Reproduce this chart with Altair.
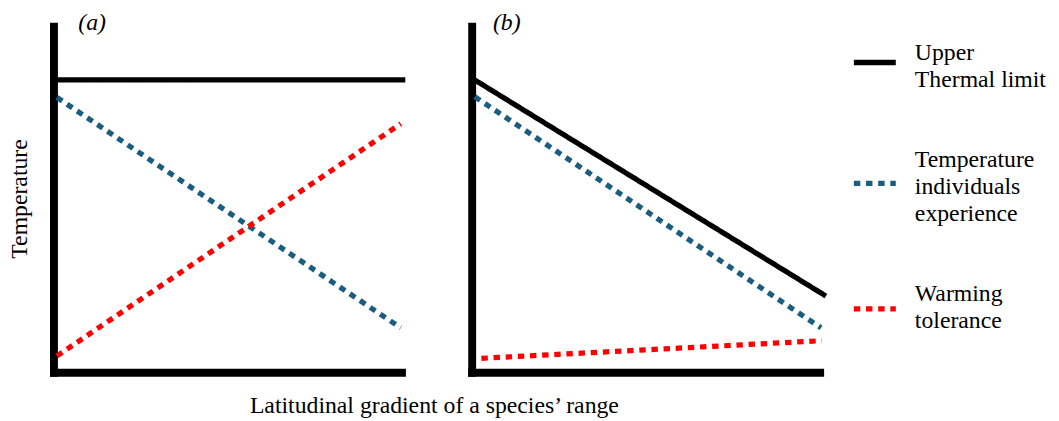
import altair as alt
import pandas as pd

FONT = "Liberation Serif"
BLACK = "#000000"
BLUE = "#1a5d7e"
RED = "#ff0000"

series_names = ["Upper Thermal limit", "Temperature individuals experience", "Warming tolerance"]
legend_lines = [["Upper", "Thermal limit"],
                ["Temperature", "individuals", "experience"],
                ["Warming", "tolerance"]]
x_title = "Latitudinal gradient of a species\u2019 range"
y_title = "Temperature"
panel_labels = ["(a)", "(b)"]

# panel (a): two end points per series (x, y in arbitrary units 0-100)
a_upper_x = [0.0, 101.1]
a_upper_y = [84.5, 84.5]
a_exp_x = [1.0, 99.8]
a_exp_y = [79.4, 12.8]
a_tol_x = [1.0, 99.8]
a_tol_y = [4.7, 71.8]

# panel (b)
b_upper_x = [0.0, 101.8]
b_upper_y = [85.0, 22.0]
b_exp_x = [0.9, 100.4]
b_exp_y = [79.6, 12.8]
b_tol_x = [2.8, 100.6]
b_tol_y = [4.0, 9.1]


def build_df(sets):
    rows = []
    for name, xs, ys in sets:
        for i, (xv, yv) in enumerate(zip(xs, ys)):
            rows.append({"series": name, "order": i, "x": xv, "y": yv})
    return pd.DataFrame(rows)


df_a = build_df([(series_names[0], a_upper_x, a_upper_y),
                 (series_names[1], a_exp_x, a_exp_y),
                 (series_names[2], a_tol_x, a_tol_y)])
df_b = build_df([(series_names[0], b_upper_x, b_upper_y),
                 (series_names[1], b_exp_x, b_exp_y),
                 (series_names[2], b_tol_x, b_tol_y)])

W, H = 352, 350
DASH = [6.5, 5.8]
LH = 27.3

color_scale = alt.Scale(domain=series_names, range=[BLACK, BLUE, RED])
dash_scale = alt.Scale(domain=series_names, range=[[1, 0], DASH, DASH])

title_style = dict(titleFont=FONT, titleFontSize=24, titleFontWeight="normal",
                   titleColor=BLACK, titleLineHeight=LH)
base_axis = dict(domainWidth=8, domainColor=BLACK, domainCap="square",
                 ticks=False, labels=False, grid=False, **title_style)


def text_axis(title, orient, tx, ty, italic=False):
    kw = dict(orient=orient, title=title, domain=False, ticks=False, labels=False,
              grid=False, titleX=tx, titleY=ty, titleAlign="left",
              titleBaseline="alphabetic", titleAngle=0, **title_style)
    if italic:
        kw["titleFontStyle"] = "italic"
    return alt.Axis(**kw)


def lines_layer(df, x_axis, y_axis):
    return alt.Chart(df).mark_line(strokeWidth=5.3, strokeCap="butt").encode(
        x=alt.X("x:Q", scale=alt.Scale(domain=[0, 100], nice=False, zero=False), axis=x_axis),
        y=alt.Y("y:Q", scale=alt.Scale(domain=[0, 100], nice=False, zero=False), axis=y_axis),
        color=alt.Color("series:N", scale=color_scale, legend=None),
        strokeDash=alt.StrokeDash("series:N", scale=dash_scale, legend=None),
        detail="series:N",
        order="order:Q",
    )


def one_row():
    return alt.Data(values=[{"k": 1}])


# legend geometry (pixels, relative to panel (b) plot area)
leg_x1, leg_x2, txt_x = 386.6, 429.0, 447.8
leg_sym_y = [36.8, 159.0, 286.0]
leg_txt_y = [33.3, 142.0, 277.8]
leg_colors = [BLACK, BLUE, RED]
leg_dash = [[1, 0], DASH, DASH]
leg_width = [5.5, 5.3, 5.3]

# panel (a)
x_axis_a = alt.Axis(title=x_title, titleX=384.8, titleY=40.3, titleAlign="center",
                    titleBaseline="alphabetic", **base_axis)
y_axis_a = alt.Axis(title=y_title, titleX=-27.0, titleY=174.3, titleAlign="center",
                    titleBaseline="alphabetic", titleAngle=270, **base_axis)
label_a = alt.Chart(one_row()).mark_point(opacity=0, size=1).encode(
    x=alt.X("k:Q", axis=text_axis(panel_labels[0], "top", 24.6, 3.1, italic=True)))

panel_a = alt.layer(
    lines_layer(df_a, x_axis_a, y_axis_a),
    label_a,
).resolve_scale(x="independent").properties(width=W, height=H)

# panel (b) - legend texts carried by axis titles
x_axis_b = alt.Axis(title=legend_lines[2], titleX=txt_x, titleY=leg_txt_y[2] - H,
                    titleAlign="left", titleBaseline="alphabetic", **base_axis)
y_axis_b = alt.Axis(title=legend_lines[0], titleX=txt_x, titleY=leg_txt_y[0],
                    titleAlign="left", titleBaseline="alphabetic", titleAngle=0, **base_axis)
label_b = alt.Chart(one_row()).mark_point(opacity=0, size=1).encode(
    x=alt.X("k:Q", axis=text_axis(panel_labels[1], "top", 21.0, 3.1, italic=True)),
    y=alt.Y("k:Q", axis=text_axis(legend_lines[1], "right", txt_x - W, leg_txt_y[1])),
)

legend_syms = [
    alt.Chart(one_row()).mark_rule(color=leg_colors[i], strokeWidth=leg_width[i],
                                   strokeDash=leg_dash[i], strokeCap="butt").encode(
        x=alt.value(leg_x1), x2=alt.value(leg_x2), y=alt.value(leg_sym_y[i]))
    for i in range(3)
]

panel_b = alt.layer(
    lines_layer(df_b, x_axis_b, y_axis_b),
    label_b,
    *legend_syms,
).resolve_scale(x="independent", y="independent").properties(width=W, height=H)

chart = (
    alt.hconcat(panel_a, panel_b, spacing=71, bounds="flush")
    .properties(padding={"left": 0, "top": 0, "right": 5, "bottom": 0})
    .configure(background="white")
    .configure_view(stroke=None)
)

chart.save("out.html", embed_options={"renderer": "svg", "actions": False})
